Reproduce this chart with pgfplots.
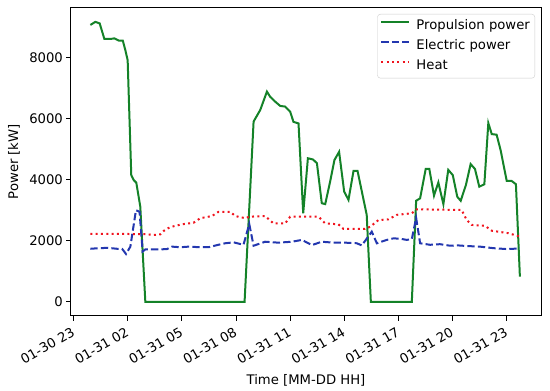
\documentclass[border=0pt]{standalone}
\usepackage{fontspec}
\setmainfont{DejaVu Sans}
\usepackage{pgfplots}
\pgfplotsset{compat=1.18}
\definecolor{cgreen}{RGB}{20,130,40}
\definecolor{cblue}{RGB}{35,55,175}
\definecolor{cred}{RGB}{240,20,30}
\definecolor{lgray}{RGB}{204,204,204}
\newcommand{\fs}{\fontsize{13.2}{15}\selectfont}
\begin{document}
\begin{tikzpicture}
\begin{axis}[
  scale only axis, width=470pt, height=308.5pt,
  xmin=-0.15, xmax=25.9, ymin=-458, ymax=9630,
  axis line style={line width=1pt, black},
  tick style={line width=1pt, black},
  tick align=outside, major tick length=4.6pt,
  xtick pos=lower, ytick pos=left,
  xtick={0,3,6,9,12,15,18,21,24},
  xticklabels={01-30 23,01-31 02,01-31 05,01-31 08,01-31 11,01-31 14,01-31 17,01-31 20,01-31 23},
  ytick={0,2000,4000,6000,8000},
  /pgf/number format/1000 sep={},
  /pgf/number format/assume math mode=true,
  ticklabel style={font=\fs},
  xticklabel style={rotate=30, anchor=north east, xshift=-2pt, yshift=0pt},
  label style={font=\fs},
  xlabel={Time [MM-DD HH]}, ylabel={Power [kW]},
  xlabel style={at={(axis description cs:0.5,0)}, anchor=center, yshift=-64pt},
  ylabel style={at={(axis description cs:0,0.5)}, anchor=center, yshift=57pt},
  legend style={at={(rel axis cs:1,1)}, anchor=north east, xshift=-6pt, yshift=-6.5pt,
    draw=lgray, rounded corners=3pt, fill=white, fill opacity=0.8, text opacity=1,
    font=\fs, inner xsep=3pt, inner ysep=2pt, row sep=0pt, column sep=4pt,
    nodes={inner ysep=2.75pt, text height=11pt, text depth=3.5pt}},
  legend cell align=left,
  legend image code/.code={\draw[#1] (0pt,4pt) -- (28pt,4pt);},
]
\addplot[cgreen, line width=2pt] coordinates {
(0.925,9060) (1.20,9160) (1.44,9110) (1.70,8600) (2.03,8600) (2.25,8620) (2.49,8550) (2.72,8550)
(2.86,8240) (2.99,7910) (3.19,4150) (3.32,3990) (3.47,3900) (3.69,3120) (3.97,0) (9.47,0)
(9.97,5900) (10.34,6280) (10.71,6880) (10.89,6710) (11.17,6550) (11.45,6410) (11.72,6390)
(12.00,6220) (12.18,5890) (12.46,5840) (12.72,2900) (12.98,4700) (13.26,4660) (13.48,4540)
(13.75,3230) (13.94,3200) (14.21,3930) (14.45,4640) (14.71,4910) (14.99,3610) (15.23,3340)
(15.51,4290) (15.73,4290) (16.24,2850) (16.47,0) (18.74,0) (18.98,3310) (19.20,3390)
(19.51,4350) (19.71,4350) (19.97,3480) (20.21,3910) (20.49,3200) (20.76,4320) (21.01,4150)
(21.26,3440) (21.45,3310) (21.74,3830) (22.00,4510) (22.24,4350) (22.48,3770) (22.76,3850)
(22.98,5850) (23.17,5490) (23.44,5470) (23.66,4970) (24.00,3960) (24.27,3960) (24.51,3850)
(24.73,830)
};
\addlegendentry{Propulsion power}
\addplot[cblue, line width=2pt, dash pattern=on 7.3pt off 3.2pt] coordinates {
(0.925,1740) (1.4,1760) (1.9,1770) (2.4,1740) (2.68,1740) (2.90,1570) (3.14,1810) (3.45,3000)
(3.65,2950) (3.82,1650) (3.97,1720) (4.8,1720) (5.17,1730) (5.45,1810) (5.91,1790) (6.37,1810)
(7.02,1790) (7.47,1790) (7.94,1860) (8.4,1920) (8.86,1950) (9.41,1870) (9.73,2550) (9.97,1840)
(10.61,1970) (11.35,1940) (12.09,1970) (12.65,2030) (13.2,1860) (13.75,1970) (14.4,1940)
(15.04,1940) (15.69,1920) (15.97,1850) (16.52,2300) (16.80,1920) (17.35,2030) (17.72,2080)
(18.09,2070) (18.46,2030) (18.74,2060) (18.98,2750) (19.20,1920) (19.75,1870) (20.30,1890)
(20.86,1840) (21.3,1850) (21.78,1830) (22.52,1810) (23.26,1760) (24.00,1730) (24.73,1750)
};
\addlegendentry{Electric power}
\addplot[cred, line width=2pt, dash pattern=on 2pt off 3.3pt] coordinates {
(0.925,2230) (4.0,2220) (4.4,2190) (4.8,2210) (5.0,2330) (5.35,2450) (6.00,2540) (6.64,2590)
(7.02,2740) (7.66,2810) (8.03,2950) (8.68,2950) (8.95,2810) (9.51,2740) (9.73,2790)
(10.61,2810) (11.07,2570) (11.72,2570) (12.00,2790) (13.57,2790) (13.94,2570) (14.67,2540)
(14.95,2390) (16.15,2390) (16.43,2460) (16.89,2680) (17.44,2700) (17.91,2850) (18.74,2900)
(19.01,3030) (21.50,3010) (21.78,2680) (22.06,2520) (22.80,2490) (23.17,2330) (24.09,2250)
(24.73,2140)
};
\addlegendentry{Heat}
\coordinate (SW) at (rel axis cs:0,0);
\coordinate (NE) at (rel axis cs:1,1);
\end{axis}
\pgfresetboundingbox
\path ([shift={(-71pt,-75pt)}]SW) rectangle ([shift={(9pt,7.5pt)}]NE);
\end{tikzpicture}
\end{document}
